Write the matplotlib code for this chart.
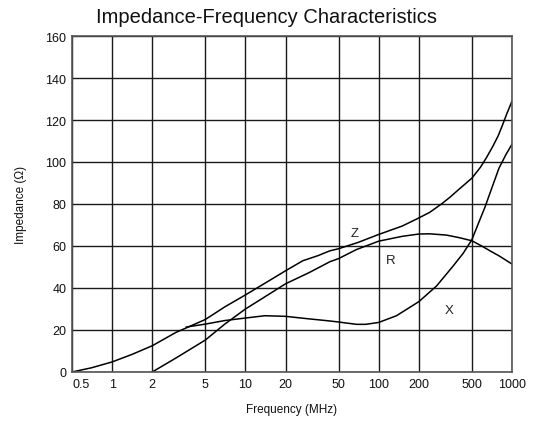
import matplotlib
matplotlib.use('Agg')
import matplotlib.pyplot as plt

# Aesthetic parameters
plt.rcParams['font.family'] = ['Liberation Sans', 'DejaVu Sans']

# ======================
# DATA
# ======================
z_freq = [0.5, 0.7, 1, 1.4, 2, 3, 5, 7, 10, 15, 20, 27, 35, 43, 50, 70, 100, 150, 192, 241,
          300, 342, 400, 500, 580, 645, 720, 788, 850, 912, 1000]
z_val = [0, 2, 4.8, 8.3, 12.5, 18.8, 25, 31, 36.7, 43.4, 48.2, 53, 55.4, 57.7, 58.7, 61.7, 65.5, 69.5, 72.8, 76,
         80.3, 83.2, 87, 92.3, 97.5, 102.2, 107.6, 112.5, 117.7, 122.8, 129]

r_freq = [2, 3, 5, 7, 10, 15, 20, 30, 43, 50, 68, 100, 150, 200, 241, 322, 400, 500, 600, 684, 800, 1000]
r_val = [0, 6.6, 15.2, 22.8, 30, 37, 42, 47.3, 52.5, 54, 58.3, 62.3, 64.6, 65.7, 65.8, 65.2, 64, 62.5, 59.8, 57.7, 55.3, 51.4]

x_freq = [3.6, 5, 7, 10, 14, 20, 30, 43, 50, 68, 80, 100, 136, 200, 272, 362, 430, 500, 574, 627, 700, 798, 900, 1000]
x_val = [21.4, 22.8, 24.5, 25.7, 26.8, 26.5, 25.3, 24.3, 23.8, 22.7, 22.7, 23.6, 26.8, 33.5, 41, 50.5, 56.5, 63, 72.5, 78.5, 87, 97, 103.5, 108.5]

x_ticks = [0.5, 1, 2, 5, 10, 20, 50, 100, 200, 500, 1000]
x_tick_labels = ['0.5', '1', '2', '5', '10', '20', '50', '100', '200', '500', '1000']
y_ticks = [0, 20, 40, 60, 80, 100, 120, 140, 160]

# curve names and where they sit (freq, impedance)
curve_labels = ['Z', 'R', 'X']
curve_label_pos = [(66, 66), (124, 53.5), (336, 29.7)]


def generate_graph():
    fig = plt.figure(figsize=(5.42, 4.27), dpi=100)
    ax = fig.add_axes([72 / 542, 1 - 373 / 427, 440 / 542, 336 / 427])

    ax.plot(z_freq, z_val, color='black', lw=1.1)
    ax.plot(r_freq, r_val, color='black', lw=1.1)
    ax.plot(x_freq, x_val, color='black', lw=1.1)

    for name, (fx, fy) in zip(curve_labels, curve_label_pos):
        ax.text(fx, fy, name, fontsize=9.5, ha='center', va='center', color='#222222')

    ax.set_xscale('log')
    ax.set_xlim(0.5, 1000)
    ax.set_ylim(0, 160)
    ax.set_xticks(x_ticks)
    ax.set_xticklabels(x_tick_labels)
    ax.minorticks_off()
    ax.set_yticks(y_ticks)
    ax.tick_params(length=0, labelsize=9, pad=4, colors='#111111')
    ax.get_xticklabels()[0].set_horizontalalignment('left')

    ax.grid(True, color='#1a1a1a', lw=1.0)
    for s in ax.spines.values():
        s.set_color('#555555')
        s.set_linewidth(1.2)

    # title is centred on the figure, not on the axes
    fig.text(266 / 542, 1 - 23 / 427, 'Impedance-Frequency Characteristics', fontsize=14.5,
             ha='center', va='baseline', color='#111111')
    ax.set_xlabel('Frequency (MHz)', fontsize=8.5, labelpad=10, color='#111111')
    ax.set_ylabel('Impedance (\u03a9)', fontsize=8.5, labelpad=13, color='#111111')

    fig.savefig('out.png', dpi=100)


if __name__ == '__main__':
    generate_graph()
